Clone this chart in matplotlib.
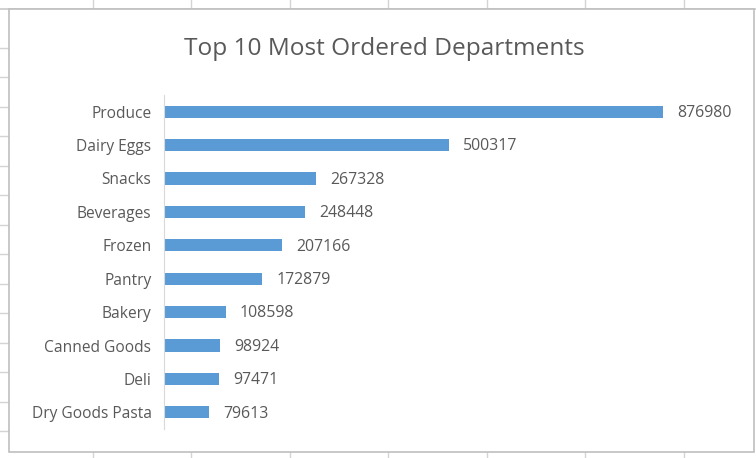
import matplotlib.pyplot as plt
from matplotlib.lines import Line2D
from matplotlib.patches import Rectangle

departments = ['Produce', 'Dairy Eggs', 'Snacks', 'Beverages', 'Frozen',
               'Pantry', 'Bakery', 'Canned Goods', 'Deli', 'Dry Goods Pasta']
orders = [876980, 500317, 267328, 248448, 207166,
          172879, 108598, 98924, 97471, 79613]

W, H = 756, 458
TEXT = '#595959'
BAR = '#5B9BD5'
plt.rcParams['font.family'] = ['Open Sans', 'DejaVu Sans']

fig = plt.figure(figsize=(W / 100, H / 100), dpi=100)
fig.patch.set_facecolor('white')

# spreadsheet grid peeking out around the chart
for x in [93, 191, 290, 388, 487, 585, 684]:
    fig.add_artist(Line2D([x / W, x / W], [1 - 9 / H, 1], color='#d4d4d4', lw=1, zorder=-3))
    fig.add_artist(Line2D([x / W, x / W], [0, 1 - 452 / H], color='#d4d4d4', lw=1, zorder=-3))
for y in [48, 77, 107, 136, 166, 195, 225, 254, 284, 313, 343, 372, 402, 431]:
    fig.add_artist(Line2D([0, 9 / W], [1 - y / H, 1 - y / H], color='#d4d4d4', lw=1, zorder=-3))
fig.add_artist(Line2D([0, 1], [1 - 9 / H, 1 - 9 / H], color='#c8c8c8', lw=1.2, zorder=-3))
fig.add_artist(Rectangle((9 / W, 1 - 452 / H), 745 / W, 443 / H, transform=fig.transFigure,
                         facecolor='white', edgecolor='#bfbfbf', lw=1.2, zorder=-2))

ax = fig.add_axes([164 / W, 1 - 429 / H, 569 / W, 334 / H])
ax.set_facecolor('none')
pos = list(range(len(departments)))
ax.barh(pos, orders, height=0.36, color=BAR)
ax.set_ylim(len(departments) - 0.5, -0.5)
ax.set_xlim(0, 1000000)
ax.set_yticks(pos)
ax.set_yticklabels(departments, fontsize=11.2, color=TEXT)
ax.tick_params(axis='y', length=0, pad=9)
ax.set_xticks([])
for s in ['top', 'right', 'bottom']:
    ax.spines[s].set_visible(False)
ax.spines['left'].set_color('#d9d9d9')

for p, v in zip(pos, orders):
    ax.annotate(str(v), (v, p), xytext=(10, -1), textcoords='offset points',
                va='center', ha='left', fontsize=11.4, color=TEXT)

fig.text(384 / W, 1 - 49 / H, 'Top 10 Most Ordered Departments', ha='center', va='center',
         fontsize=17.6, color=TEXT)

fig.savefig('out.png', dpi=100)
